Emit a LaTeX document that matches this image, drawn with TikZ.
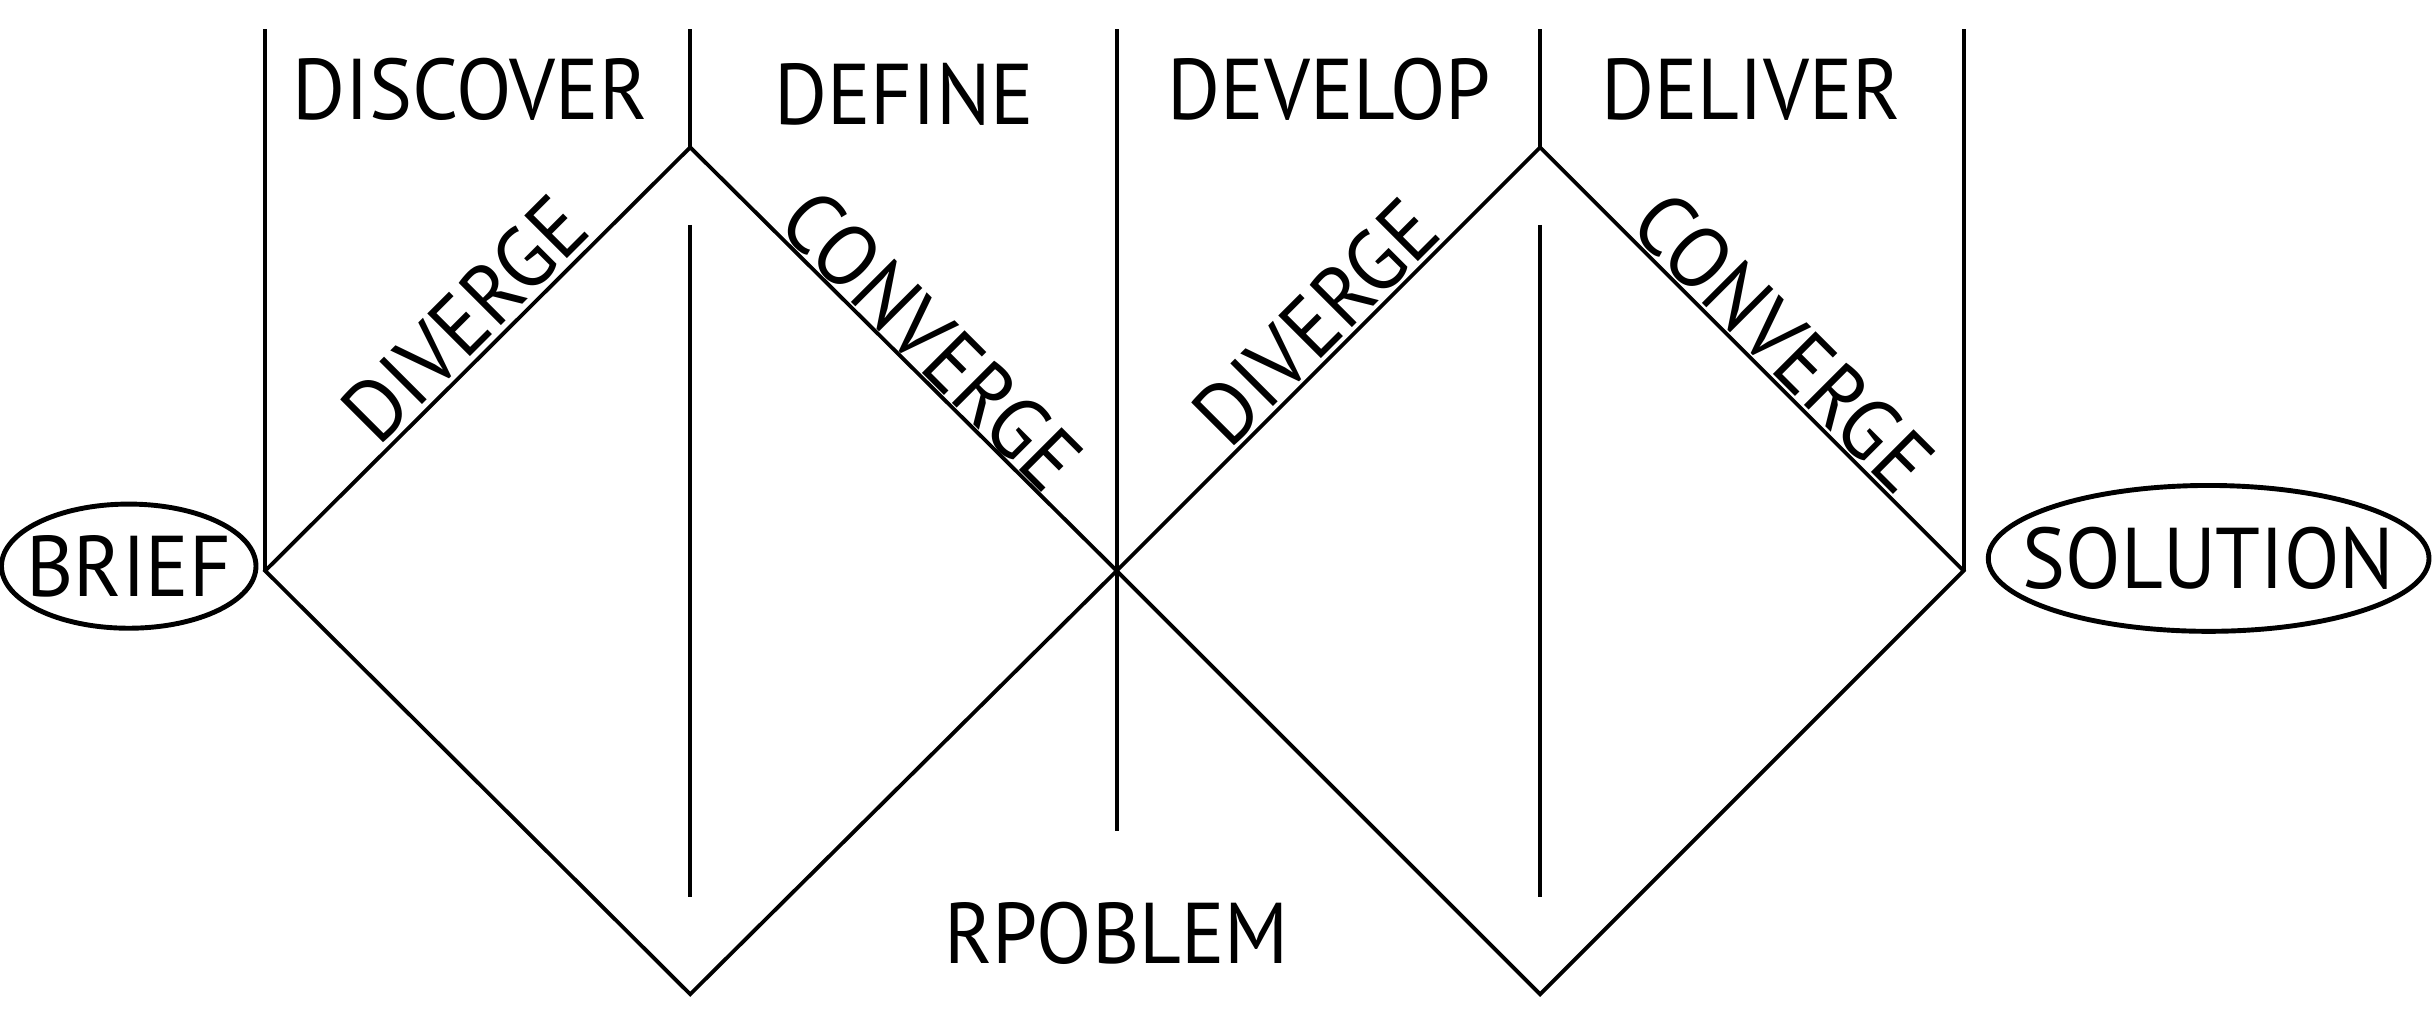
\documentclass[tikz,border=0pt]{standalone}
\usepackage{fontspec}
\setmainfont{PT Sans}[FakeStretch=0.94]
\usetikzlibrary{shapes.geometric}
\begin{document}
\begin{tikzpicture}[x=0.01cm,y=-0.01cm,line width=0.7pt,
  lbl/.style={font=\fontsize{15.8}{18}\selectfont,inner sep=0pt},
  oval/.style={ellipse,draw,line width=0.9pt,inner sep=0pt,font=\fontsize{15.8}{18}\selectfont}]
\useasboundingbox (0,0) rectangle (1568,656);
% vertices
\coordinate (L1) at (171,368);
\coordinate (T1) at (445,95);
\coordinate (M)  at (720,368);
\coordinate (B1) at (445,641);
\coordinate (T2) at (993,95);
\coordinate (R2) at (1266,368);
\coordinate (B2) at (993,641);
% top ends of phase lines
\coordinate (a0) at (171,19);
\coordinate (a1) at (445,19);
\coordinate (a2) at (720,19);
\coordinate (a3) at (993,19);
\coordinate (a4) at (1266,19);
% inner lines
\coordinate (i1t) at (445,145);
\coordinate (i1b) at (445,578);
\coordinate (i2t) at (993,145);
\coordinate (i2b) at (993,578);
\coordinate (mb) at (720,536);
% lines
\draw (a0) -- (L1);
\draw (a1) -- (T1);
\draw (a2) -- (mb);
\draw (a3) -- (T2);
\draw (a4) -- (R2);
\draw (L1) -- (T1) -- (M) -- (B1) -- cycle;
\draw (M) -- (T2) -- (R2) -- (B2) -- cycle;
\draw (i1t) -- (i1b);
\draw (i2t) -- (i2b);
% phase labels
\node[lbl,anchor=base] (discover) at (303,77) {DISCOVER};
\node[lbl,anchor=base] (define) at (583,80) {DEFINE};
\node[lbl,anchor=base] (develop) at (857,77) {DEVELOP};
\node[lbl,anchor=base] (deliver) at (1129,77) {DELIVER};
\node[lbl,anchor=base] (problem) at (720,621) {RPOBLEM};
% edge labels
\node[lbl,anchor=base,rotate=45] (div1) at (313.5,219.5) {DIVERGE};
\node[lbl,anchor=base,rotate=-45] (con1) at (587,233) {CONVERGE};
\node[lbl,anchor=base,rotate=45] (div2) at (862,221) {DIVERGE};
\node[lbl,anchor=base,rotate=-45] (con2) at (1136,234) {CONVERGE};
% ovals
\node[oval,minimum width=1.64cm,minimum height=0.80cm] (brief) at (83,365) {\makebox[0pt]{BRIEF}};
\node[oval,minimum width=2.84cm,minimum height=0.94cm] (solution) at (1424,360) {\makebox[0pt]{SOLUTION}};
\end{tikzpicture}
\end{document}
